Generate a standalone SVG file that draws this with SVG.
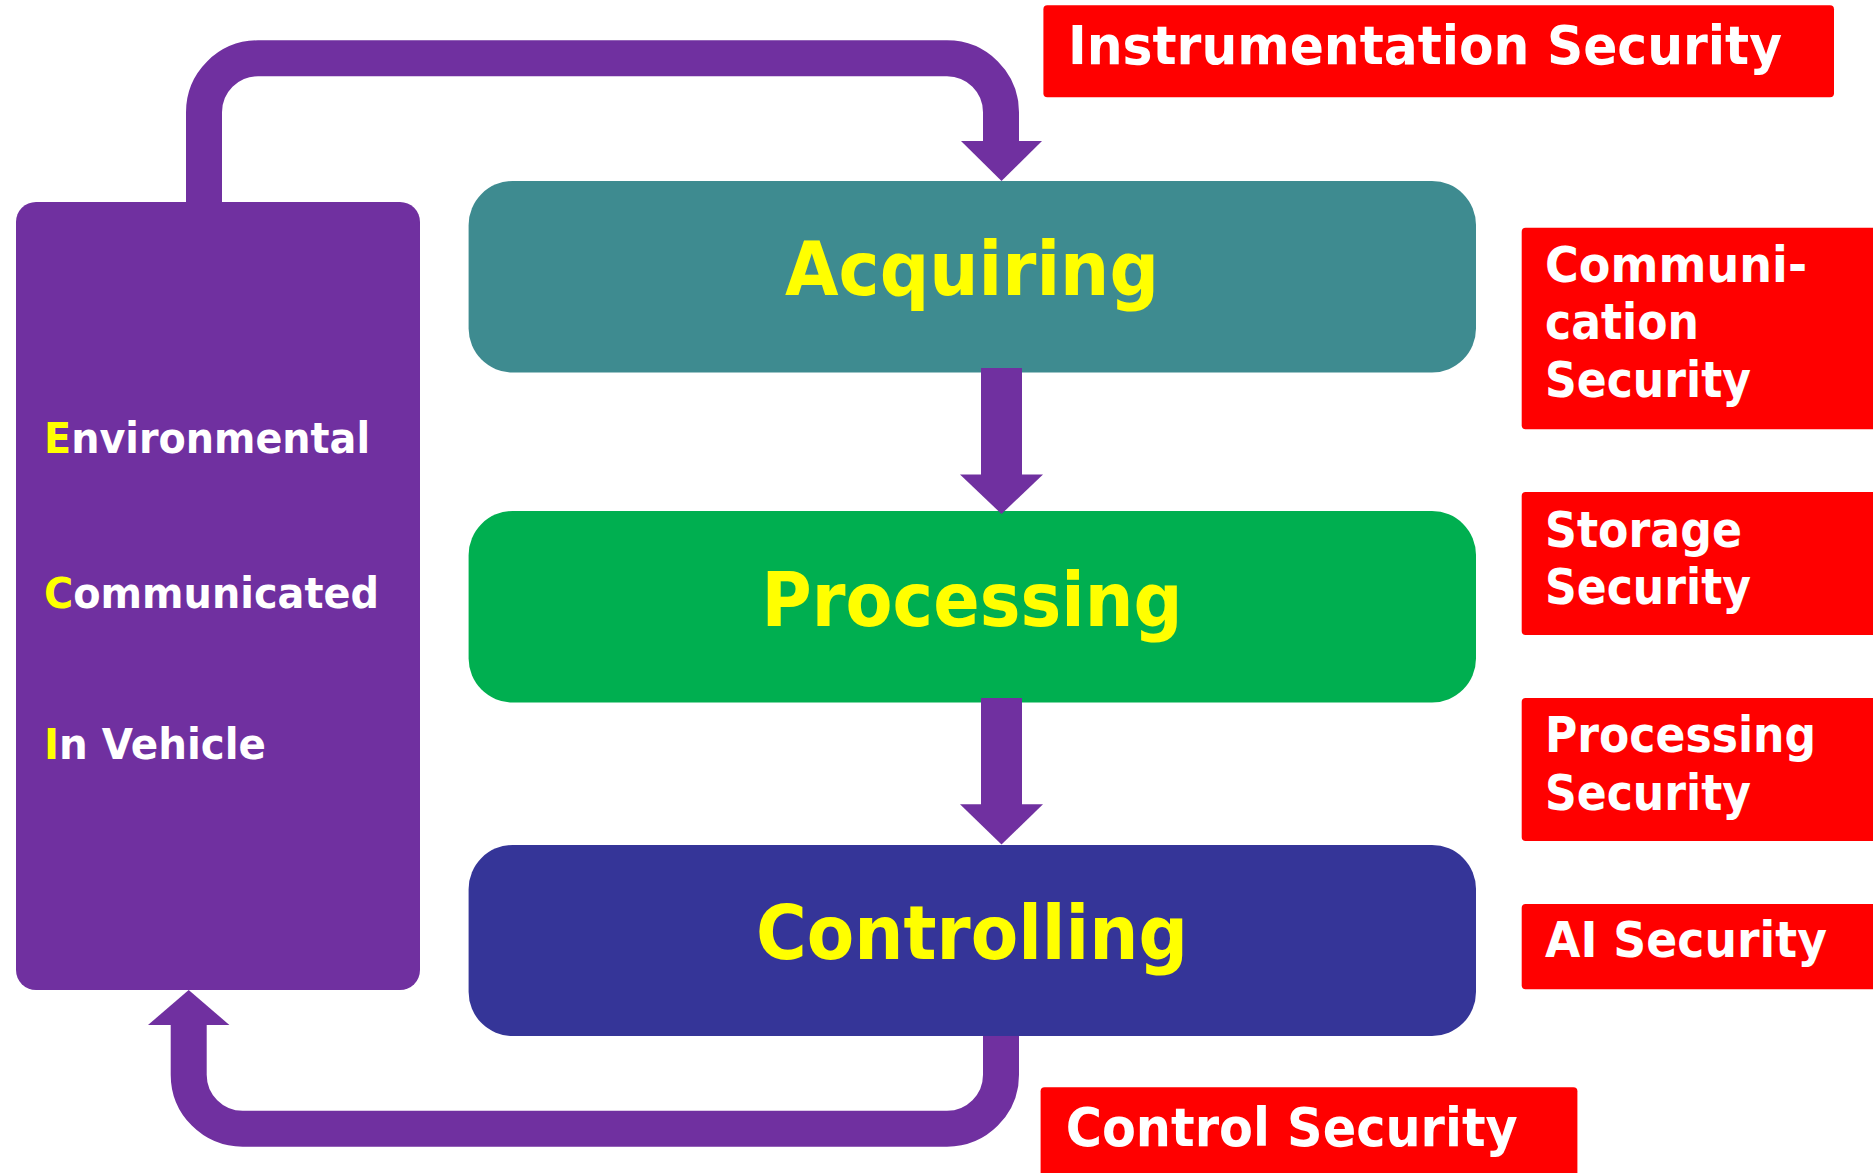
<svg xmlns="http://www.w3.org/2000/svg" width="1873" height="1173" viewBox="0 0 1873 1173">
<style>
.t{font-family:"DejaVu Sans","Verdana",sans-serif;font-weight:bold}
.big{font-size:75px;fill:#FFFF00}
.side{font-size:43px;fill:#FFFFFF}
.lab{font-size:49px;fill:#FFFFFF}
.lab2{font-size:53px;fill:#FFFFFF}
.y{fill:#FFFF00}
.red{fill:#FF0000}
.loop{fill:none;stroke:#7030A0;stroke-width:36}
.ar{fill:#7030A0}
</style>
<rect width="1873" height="1173" fill="#FFFFFF"/>
<g id="eci">
<rect x="16" y="202" width="404" height="788" rx="20" fill="#7030A0"/>
<text class="t side" x="44" y="452.7" textLength="326" lengthAdjust="spacingAndGlyphs"><tspan class="y">E</tspan>nvironmental</text>
<text class="t side" x="44" y="607.7" textLength="335" lengthAdjust="spacingAndGlyphs"><tspan class="y">C</tspan>ommunicated</text>
<text class="t side" x="44" y="759.3" textLength="222" lengthAdjust="spacingAndGlyphs"><tspan class="y">I</tspan>n Vehicle</text>
</g>
<g id="acquiring">
<rect x="468.6" y="181" width="1007.4" height="191.5" rx="44" fill="#3E8B90"/>
<text class="t big" x="972" y="295.3" text-anchor="middle" textLength="374" lengthAdjust="spacingAndGlyphs">Acquiring</text>
</g>
<g id="processing">
<rect x="468.6" y="511" width="1007.4" height="191.5" rx="44" fill="#00AF50"/>
<text class="t big" x="972" y="625.7" text-anchor="middle" textLength="421" lengthAdjust="spacingAndGlyphs">Processing</text>
</g>
<g id="controlling">
<rect x="468.6" y="845" width="1007.4" height="191" rx="44" fill="#353598"/>
<text class="t big" x="972" y="959.3" text-anchor="middle" textLength="432" lengthAdjust="spacingAndGlyphs">Controlling</text>
</g>
<g id="instrumentation-security">
<rect class="red" x="1043.4" y="5.3" width="790.6" height="92" rx="4"/>
<text class="t lab2" x="1068" y="64.3" textLength="714" lengthAdjust="spacingAndGlyphs">Instrumentation Security</text>
</g>
<g id="communication-security">
<rect class="red" x="1521.7" y="227.7" width="360" height="201.6" rx="4"/>
<text class="t lab" x="1545" y="281.7" textLength="262" lengthAdjust="spacingAndGlyphs">Communi-</text>
<text class="t lab" x="1545" y="339" textLength="154" lengthAdjust="spacingAndGlyphs">cation</text>
<text class="t lab" x="1545" y="396.7" textLength="206" lengthAdjust="spacingAndGlyphs">Security</text>
</g>
<g id="storage-security">
<rect class="red" x="1521.7" y="492" width="360" height="143" rx="4"/>
<text class="t lab" x="1545" y="546.5" textLength="197" lengthAdjust="spacingAndGlyphs">Storage</text>
<text class="t lab" x="1545" y="604.3" textLength="206" lengthAdjust="spacingAndGlyphs">Security</text>
</g>
<g id="processing-security">
<rect class="red" x="1521.7" y="698" width="360" height="143" rx="4"/>
<text class="t lab" x="1545" y="751.6" textLength="271" lengthAdjust="spacingAndGlyphs">Processing</text>
<text class="t lab" x="1545" y="810.2" textLength="206" lengthAdjust="spacingAndGlyphs">Security</text>
</g>
<g id="ai-security">
<rect class="red" x="1521.7" y="904" width="360" height="85.3" rx="4"/>
<text class="t lab" x="1545" y="957.3" textLength="282" lengthAdjust="spacingAndGlyphs">AI Security</text>
</g>
<g id="control-security">
<rect class="red" x="1040.6" y="1087.3" width="536.8" height="95" rx="4"/>
<text class="t lab2" x="1065.7" y="1145.7" textLength="452" lengthAdjust="spacingAndGlyphs">Control Security</text>
</g>
<g id="connectors">
<path class="loop" d="M204,202 V112.3 A54,54 0 0 1 258,58.3 H947 A54,54 0 0 1 1001,112.3 V142"/>
<polygon class="ar" points="961,141 1042,141 1001.5,181"/>
<rect class="ar" x="981" y="368" width="41" height="107"/>
<polygon class="ar" points="960,474.5 1043,474.5 1001.5,514"/>
<rect class="ar" x="981" y="698" width="41" height="107"/>
<polygon class="ar" points="960,804.3 1043,804.3 1001.5,844.5"/>
<path class="loop" d="M1001,1036 V1074.7 A54,54 0 0 1 947,1128.7 H242.7 A54,54 0 0 1 188.7,1074.7 V1024"/>
<polygon class="ar" points="148,1025 229.4,1025 188.7,990"/>
</g>
</svg>
